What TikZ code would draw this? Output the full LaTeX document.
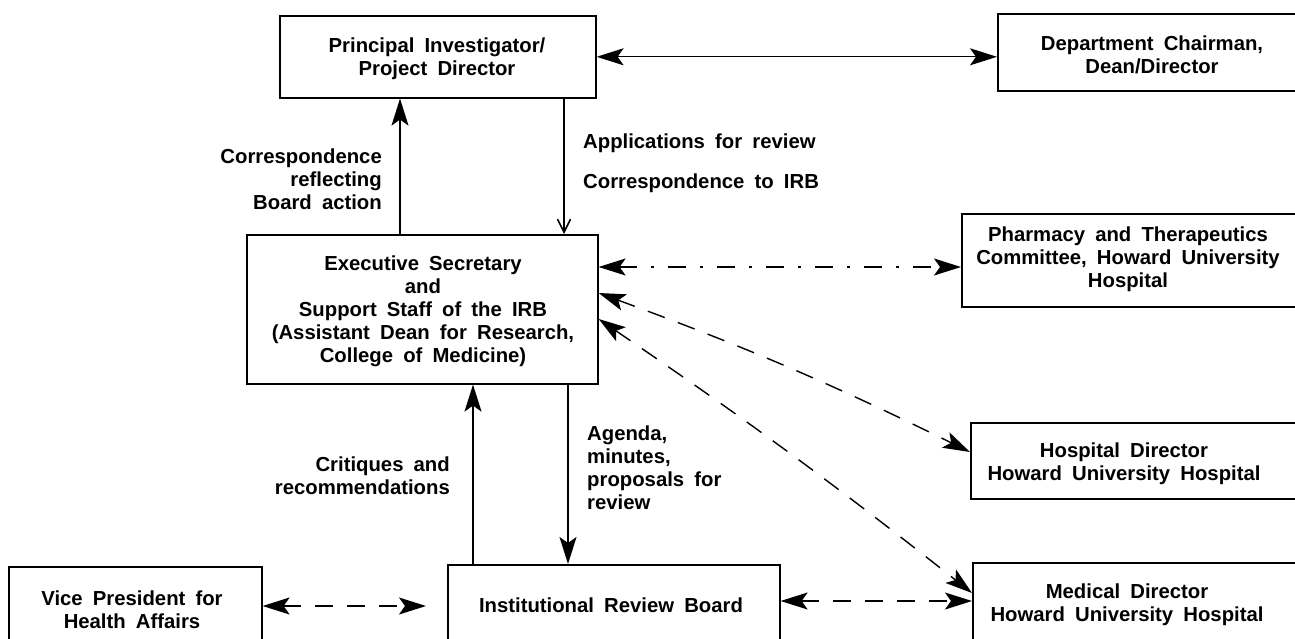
\documentclass[tikz,border=0pt]{standalone}
\usepackage{fontspec}
\setmainfont{Liberation Sans}[WordSpace=1.8]
\usetikzlibrary{arrows.meta}
\begin{document}
\begin{tikzpicture}[x=1pt,y=-1pt,
  box/.style={draw, line width=1.6pt, inner sep=0pt, anchor=north west},
  lbl/.style={font=\bfseries\fontsize{20.3}{23}\selectfont, align=center, inner sep=0pt},
  conn/.style={line width=1.4pt, >={Stealth[length=27pt,width=17pt,inset=6pt]}},
  dsh/.style={conn, dash pattern=on 18pt off 14pt},
  dshdot/.style={conn, dash pattern=on 18pt off 14pt on 3pt off 14pt}]
\useasboundingbox (0,0) rectangle (1295,639);
\clip (0,0) rectangle (1295,639);

% boxes
\node[box, minimum width=316pt, minimum height=82pt] (pi) at (279,15) {};
\node[box, minimum width=320pt, minimum height=77pt] (dept) at (997,13) {};
\node[box, minimum width=351pt, minimum height=149pt] (exec) at (246,234) {};
\node[box, minimum width=345pt, minimum height=93pt] (pharm) at (961,213) {};
\node[box, minimum width=340pt, minimum height=76pt] (hosp) at (970,422) {};
\node[box, minimum width=340pt, minimum height=90pt] (med) at (972,562) {};
\node[box, minimum width=332pt, minimum height=90pt] (irb) at (447,564) {};
\node[box, minimum width=253pt, minimum height=90pt] (vp) at (8,566) {};

% box texts
\node[lbl] (pit) at (437,59) {Principal Investigator/\\Project Director};
\node[lbl] (deptt) at (1152,55) {Department Chairman,\\Dean/Director};
\node[lbl] (exect) at (423,311) {Executive Secretary\\and\\Support Staff of the IRB\\(Assistant Dean for Research,\\College of Medicine)};
\node[lbl] (pharmt) at (1128,259) {Pharmacy and Therapeutics\\Committee, Howard University\\Hospital};
\node[lbl] (hospt) at (1124,464) {Hospital Director\\Howard University Hospital};
\node[lbl] (medt) at (1127,605) {Medical Director\\Howard University Hospital};
\node[lbl] (irbt) at (611,605) {Institutional Review Board};
\node[lbl] (vpt) at (132,610) {Vice President for\\Health Affairs};

% connector labels
\node[lbl, align=right, anchor=east] (l1) at (382,179) {Correspondence\\reflecting\\Board action};
\node[lbl, anchor=west] (l2) at (583,143) {Applications for review};
\node[lbl, anchor=west] (l3) at (583,183) {Correspondence to IRB};
\node[lbl, align=right, anchor=east] (l4) at (450,476) {Critiques and\\recommendations};
\node[lbl, align=left, anchor=west] (l5) at (587,468) {Agenda,\\minutes,\\proposals for\\review};

% connector anchor points
\coordinate (u1) at ([xshift=154pt]exec.north west);
\coordinate (d1) at ([xshift=285pt]pi.south west);
\coordinate (c1) at ([xshift=26pt]irb.north west);
\coordinate (a1) at ([xshift=322pt]exec.south west);
\coordinate (e1) at ([yshift=-33pt]exec.north east);
\coordinate (e2) at ([yshift=-59pt]exec.north east);
\coordinate (e3) at ([yshift=-85pt]exec.north east);
\coordinate (h1) at ([yshift=-30pt]hosp.north west);
\coordinate (m1) at ([yshift=-31pt]med.north west);
\coordinate (i1) at ([yshift=-37pt]irb.north east);
\coordinate (v1) at ([yshift=-40pt]vp.north east);

% connectors
\draw[conn, <->] (pi.east) -- (pi.east -| dept.west);
\draw[conn, ->] (u1) -- (u1 |- pi.south);
\draw[conn, -{Straight Barb[length=13pt,width=13pt,line width=1.6pt]}] (d1) -- (d1 |- exec.north);
\draw[conn, ->] (c1) -- (c1 |- exec.south);
\draw[conn, ->] (a1) -- (a1 |- irb.north);
\draw[dshdot, <->] (e1) -- (e1 -| pharm.west);
\draw[dsh, <->] (e2) to[bend left=3] (h1);
\draw[dsh, <->] (e3) to[bend left=2] (m1);
\draw[dsh, <->] (i1) -- (i1 -| med.west);
\draw[dsh, <->, shorten >=21pt] (v1) -- (v1 -| irb.west);
\end{tikzpicture}
\end{document}
